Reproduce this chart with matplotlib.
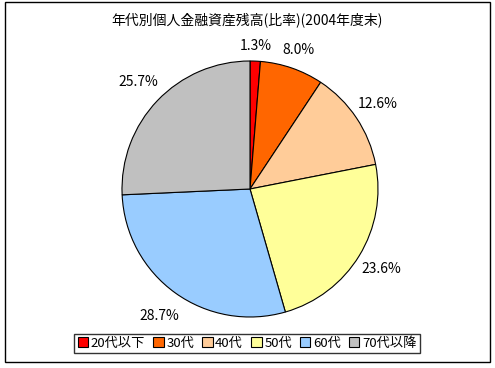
import matplotlib
matplotlib.use('Agg')
import matplotlib.pyplot as plt
from matplotlib.patches import Rectangle

plt.rcParams['font.family'] = ['Noto Sans CJK JP', 'DejaVu Sans']

title = '年代別個人金融資産残高(比率)(2004年度末)'
ages = ['20代以下', '30代', '40代', '50代', '60代', '70代以降']
shares = [1.3, 8.0, 12.6, 23.6, 28.7, 25.7]
colors = ['#FF0000', '#FF6600', '#FFCC99', '#FFFF99', '#99CCFF', '#C0C0C0']

W, H = 495, 368
fig = plt.figure(figsize=(W / 100, H / 100), dpi=100)

# outer frame like the excel chart area
fig.patches.append(Rectangle((5 / W, 6 / H), 485 / W, 360 / H, transform=fig.transFigure,
                             fill=False, edgecolor='black', linewidth=1))

# pie centre (250,189) px, radius 128 px
cx, cy, r, lim = 250, H - 189, 128, 1.3
half = lim * r
ax = fig.add_axes([(cx - half) / W, (cy - half) / H, 2 * half / W, 2 * half / H])

wedges, texts = ax.pie(shares, colors=colors, startangle=90, counterclock=False,
                       labels=['%.1f%%' % v for v in shares], labeldistance=1.2,
                       wedgeprops=dict(edgecolor='black', linewidth=0.8),
                       textprops=dict(fontsize=10))
# excel puts the small top labels a little closer to the pie
label_dist = [1.12, 1.15, 1.2, 1.2, 1.22, 1.21]
for t, d in zip(texts, label_dist):
    x, y = t.get_position()
    t.set_position((x * d / 1.2, y * d / 1.2))
    t.set_ha('center')
    t.set_va('center')
ax.set_xlim(-lim, lim)
ax.set_ylim(-lim, lim)
ax.set_aspect('equal')
ax.axis('off')

fig.text(247 / W, 1 - 20 / H, title, ha='center', va='center', fontsize=10)

leg = fig.legend(wedges, ages, loc='center', bbox_to_anchor=(247 / W, 1 - 343.5 / H),
                 ncol=6, fontsize=9.5, frameon=True, fancybox=False, edgecolor='black',
                 handlelength=0.8, handleheight=0.8, handletextpad=0.2, columnspacing=0.6,
                 borderpad=0.25, borderaxespad=0)
leg.get_frame().set_linewidth(1)

fig.savefig('out.png', dpi=100)
